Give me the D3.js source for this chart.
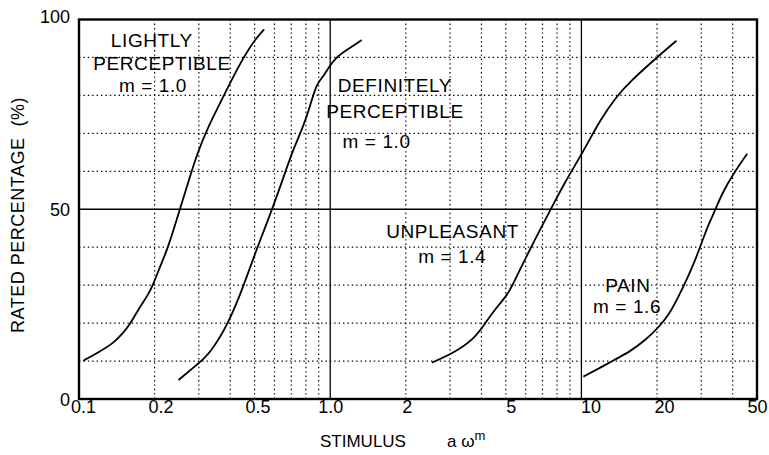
<!DOCTYPE html>
<meta charset="utf-8">
<style>
    body { margin: 0; background: #fff; }
    text { font-family: "Liberation Sans", Arial, sans-serif; fill: #000; }
    .grid line { stroke: #000; stroke-width: 1.2; stroke-dasharray: 1.4,3; }
    .major line { stroke: #000; stroke-width: 1.3; }
    .curve { fill: none; stroke: #000; stroke-width: 1.8; }
    .tag text { font-size: 19px; letter-spacing: 0.6px; text-anchor: middle; }
</style>
<svg width="769" height="455"></svg>
<script src="https://d3js.org/d3.v7.min.js"></script>
<script>
    // tick positions / labels
    var xTicks = [0.1, 0.2, 0.5, 1, 2, 5, 10, 20, 50];
    var xTickLabels = ["0.1", "0.2", "0.5", "1.0", "2", "5", "10", "20", "50"];
    var yTicks = [0, 50, 100];
    var xGridDotted = [0.2, 0.3, 0.4, 0.5, 0.6, 0.7, 0.8, 0.9, 2, 3, 4, 5, 6, 7, 8, 9, 20, 30, 40];
    var xGridSolid = [1, 10];
    var yGridDotted = [10, 20, 30, 40, 60, 70, 80, 90];
    var yGridSolid = [50];

    // curves: [stimulus, rated %]
    var lightly = [[0.104, 10.1], [0.121, 12.5], [0.137, 14.7], [0.150, 17.4], [0.160, 19.8], [0.172, 23.5],
        [0.186, 26.9], [0.196, 29.6], [0.210, 34.9], [0.225, 39.4], [0.251, 49.6], [0.277, 58.8],
        [0.296, 64.7], [0.322, 70.9], [0.378, 80.1], [0.437, 88.4], [0.494, 94.2], [0.546, 97.4]];
    var definitely = [[0.249, 5.0], [0.299, 9.4], [0.332, 12.0], [0.393, 19.8], [0.451, 29.6], [0.509, 39.5],
        [0.585, 49.6], [0.661, 59.6], [0.711, 65.6], [0.781, 71.8], [0.831, 77.1], [0.883, 83.2],
        [0.938, 84.9], [0.98, 87.1], [1.045, 89.8], [1.165, 92.0], [1.334, 94.6]];
    var unpleasant = [[2.54, 9.6], [3.09, 12.1], [3.71, 15.6], [4.13, 19.8], [4.46, 23.1], [5.07, 27.4],
        [5.28, 29.6], [6.24, 39.5], [7.5, 49.6], [8.53, 56.8], [10.18, 65.2], [11.86, 73.5],
        [13.82, 79.8], [15.6, 83.6], [19.94, 90.0], [23.9, 94.4]];
    var pain = [[10.18, 5.9], [11.78, 8.1], [13.34, 10.1], [15.63, 12.5], [18.05, 15.6], [20.45, 19.1],
        [22.5, 22.6], [24.3, 26.9], [26.2, 31.3], [28.4, 36.6], [30.7, 42.7], [32.2, 46.3], [33.9, 49.4],
        [36.3, 54.2], [40.4, 59.5], [45.7, 64.6]];

    // curve labels: text lines, stimulus at each line centre, % at each baseline
    var tags = [
        { lines: ["LIGHTLY", "PERCEPTIBLE", "m = 1.0"], cx: [0.195, 0.214, 0.197], y: [92.8, 86.7, 81] },
        { lines: ["DEFINITELY", "PERCEPTIBLE", "m = 1.0"], cx: [1.81, 1.81, 1.53], y: [80.9, 74.1, 66.1] },
        { lines: ["UNPLEASANT", "m = 1.4"], cx: [3.07, 3.06], y: [42.4, 35.8] },
        { lines: ["PAIN", "m = 1.6"], cx: [15.3, 15.2], y: [28.3, 22.6] }
    ];

    var svg = d3.select("svg");

    var x = d3.scaleLog().domain([0.1, 50]).range([79, 757]);
    var y = d3.scaleLinear().domain([0, 100]).range([399, 19.5]);

    var grid = svg.append("g").attr("class", "grid");
    grid.selectAll(".vx").data(xGridDotted).enter().append("line")
        .attr("x1", function (d) { return x(d); }).attr("x2", function (d) { return x(d); })
        .attr("y1", y(0)).attr("y2", y(100));
    grid.selectAll(".hy").data(yGridDotted).enter().append("line")
        .attr("y1", function (d) { return y(d); }).attr("y2", function (d) { return y(d); })
        .attr("x1", x(0.1)).attr("x2", x(50));

    var major = svg.append("g").attr("class", "major");
    major.selectAll(".vx").data(xGridSolid).enter().append("line")
        .attr("x1", function (d) { return x(d); }).attr("x2", function (d) { return x(d); })
        .attr("y1", y(0)).attr("y2", y(100));
    major.selectAll(".hy").data(yGridSolid).enter().append("line")
        .attr("y1", function (d) { return y(d); }).attr("y2", function (d) { return y(d); })
        .attr("x1", x(0.1)).attr("x2", x(50));

    // frame
    svg.append("rect")
        .attr("x", x(0.1)).attr("y", y(100))
        .attr("width", x(50) - x(0.1)).attr("height", y(0) - y(100))
        .attr("fill", "none").attr("stroke", "#000").attr("stroke-width", 2.4);

    var line = d3.line()
        .x(function (d) { return x(d[0]); })
        .y(function (d) { return y(d[1]); })
        .curve(d3.curveBasis);

    svg.selectAll(".curve").data([lightly, definitely, unpleasant, pain]).enter().append("path")
        .attr("class", "curve")
        .attr("d", line);

    var xAxis = svg.append("g")
        .attr("transform", "translate(0," + y(0) + ")")
        .call(d3.axisBottom(x).tickValues(xTicks).tickSize(0).tickPadding(1)
            .tickFormat(function (d, i) { return xTickLabels[i]; }));
    xAxis.select(".domain").remove();
    xAxis.selectAll("text").attr("font-size", 18).attr("font-family", null)
        .attr("dx", function (d, i) { return [4, 6, 3, 0, 1, 5, 9, 7, 0][i]; });

    var yAxis = svg.append("g")
        .attr("transform", "translate(" + x(0.1) + ",0)")
        .call(d3.axisLeft(y).tickValues(yTicks).tickSize(0).tickPadding(9));
    yAxis.select(".domain").remove();
    yAxis.selectAll("text").attr("font-size", 18).attr("font-family", null)
        .attr("dy", function (d) { return d === 100 ? "0.15em" : "0.35em"; });

    var tag = svg.append("g").attr("class", "tag");
    tags.forEach(function (t) {
        t.lines.forEach(function (s, i) {
            tag.append("text")
                .attr("x", x(t.cx[i]))
                .attr("y", y(t.y[i]))
                .text(s);
        });
    });

    svg.append("text")
        .attr("transform", "translate(24,215) rotate(-90)")
        .attr("text-anchor", "middle")
        .attr("font-size", 18)
        .attr("letter-spacing", 0.5)
        .style("white-space", "pre")
        .text("RATED PERCENTAGE  (%)");

    var xt = svg.append("g").attr("font-size", 17);
    xt.append("text").attr("x", 320).attr("y", 447).text("STIMULUS");
    var aw = xt.append("text").attr("x", 447).attr("y", 447);
    aw.append("tspan").text("a ω");
    aw.append("tspan").attr("font-size", 13).attr("dy", -7).text("m");
</script>
